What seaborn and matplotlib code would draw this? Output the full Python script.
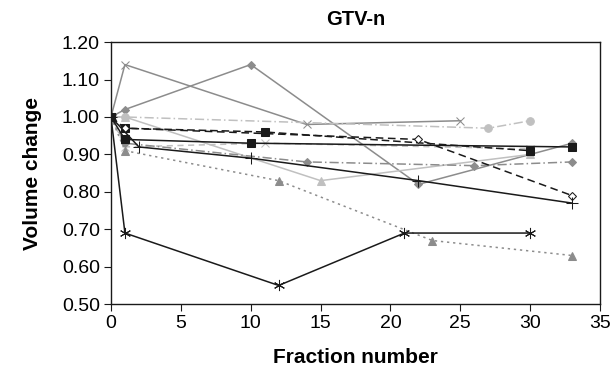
import matplotlib
matplotlib.use("Agg")
import matplotlib.pyplot as plt
import seaborn as sns

# fraction numbers / relative volume per patient
x_a = [0, 1, 14, 25]
y_a = [1.00, 1.14, 0.98, 0.99]
x_b = [0, 1, 10, 22, 33]
y_b = [1.00, 1.02, 1.14, 0.82, 0.93]
x_c = [0, 1, 27, 30]
y_c = [1.00, 1.00, 0.97, 0.99]
x_d = [0, 1, 11, 30]
y_d = [1.00, 0.97, 0.96, 0.91]
x_e = [0, 1, 22, 33]
y_e = [1.00, 0.97, 0.94, 0.79]
x_f = [0, 1, 10, 33]
y_f = [1.00, 0.94, 0.93, 0.92]
x_g = [0, 1, 11, 30]
y_g = [1.00, 0.92, 0.93, 0.915]
x_h = [0, 1, 15, 30]
y_h = [1.00, 1.00, 0.83, 0.90]
x_i = [0, 2, 10, 22, 33]
y_i = [1.00, 0.92, 0.89, 0.83, 0.77]
x_j = [0, 1, 14, 26, 33]
y_j = [1.00, 0.93, 0.88, 0.87, 0.88]
x_k = [0, 1, 12, 23, 33]
y_k = [1.00, 0.91, 0.83, 0.67, 0.63]
x_l = [0, 1, 12, 21, 30]
y_l = [1.00, 0.69, 0.55, 0.69, 0.69]

plt.rcParams['font.family'] = ['Liberation Sans', 'DejaVu Sans']
fig = plt.figure(figsize=(6.13, 3.76), dpi=100)
ax = fig.add_axes([0.181, 0.191, 0.798, 0.697])

dark = "#1a1a1a"
mid = "#8c8c8c"
light = "#c0c0c0"

series = [
    (x_a, y_a, mid, "-", "x", mid, 6),
    (x_b, y_b, mid, "-", "D", mid, 4.5),
    (x_c, y_c, light, (0, (6, 2, 1, 2)), "o", light, 5.5),
    (x_h, y_h, light, "-", "^", light, 5.5),
    (x_g, y_g, light, (0, (4, 3)), "x", light, 6),
    (x_j, y_j, mid, (0, (6, 2, 1, 2)), "D", mid, 4.5),
    (x_k, y_k, mid, (0, (1.5, 2.5)), "^", mid, 5.5),
    (x_d, y_d, dark, (0, (5, 2.5)), "s", dark, 5.5),
    (x_e, y_e, dark, (0, (5, 3)), "D", "white", 4.5),
    (x_f, y_f, dark, "-", "s", dark, 5.5),
    (x_i, y_i, dark, "-", "+", dark, 8),
    (x_l, y_l, dark, "-", (6, 2, 0), dark, 8),
]

for xs, ys, col, ls, mk, fc, ms in series:
    sns.lineplot(x=xs, y=ys, ax=ax, color=col, linestyle=ls, marker=mk,
                 markersize=ms, markerfacecolor=fc, markeredgecolor=col,
                 linewidth=1.1, sort=False, estimator=None)

ax.set_xlim(0, 35)
ax.set_ylim(0.5, 1.2)
ax.set_xticks(range(0, 36, 5))
ax.set_yticks([0.5, 0.6, 0.7, 0.8, 0.9, 1.0, 1.1, 1.2])
ax.set_yticklabels([f"{v:.2f}" for v in ax.get_yticks()])
ax.tick_params(labelsize=14, direction="out", length=5, color=dark, pad=3)
for s in ax.spines.values():
    s.set_color(dark)
    s.set_linewidth(1.0)

ax.set_title("GTV-n", fontsize=14.5, fontweight="bold", pad=12)
ax.set_xlabel("Fraction number", fontsize=15, fontweight="bold", labelpad=11)
ax.set_ylabel("Volume change", fontsize=15, fontweight="bold", labelpad=14)

plt.savefig("out.png", dpi=100)
